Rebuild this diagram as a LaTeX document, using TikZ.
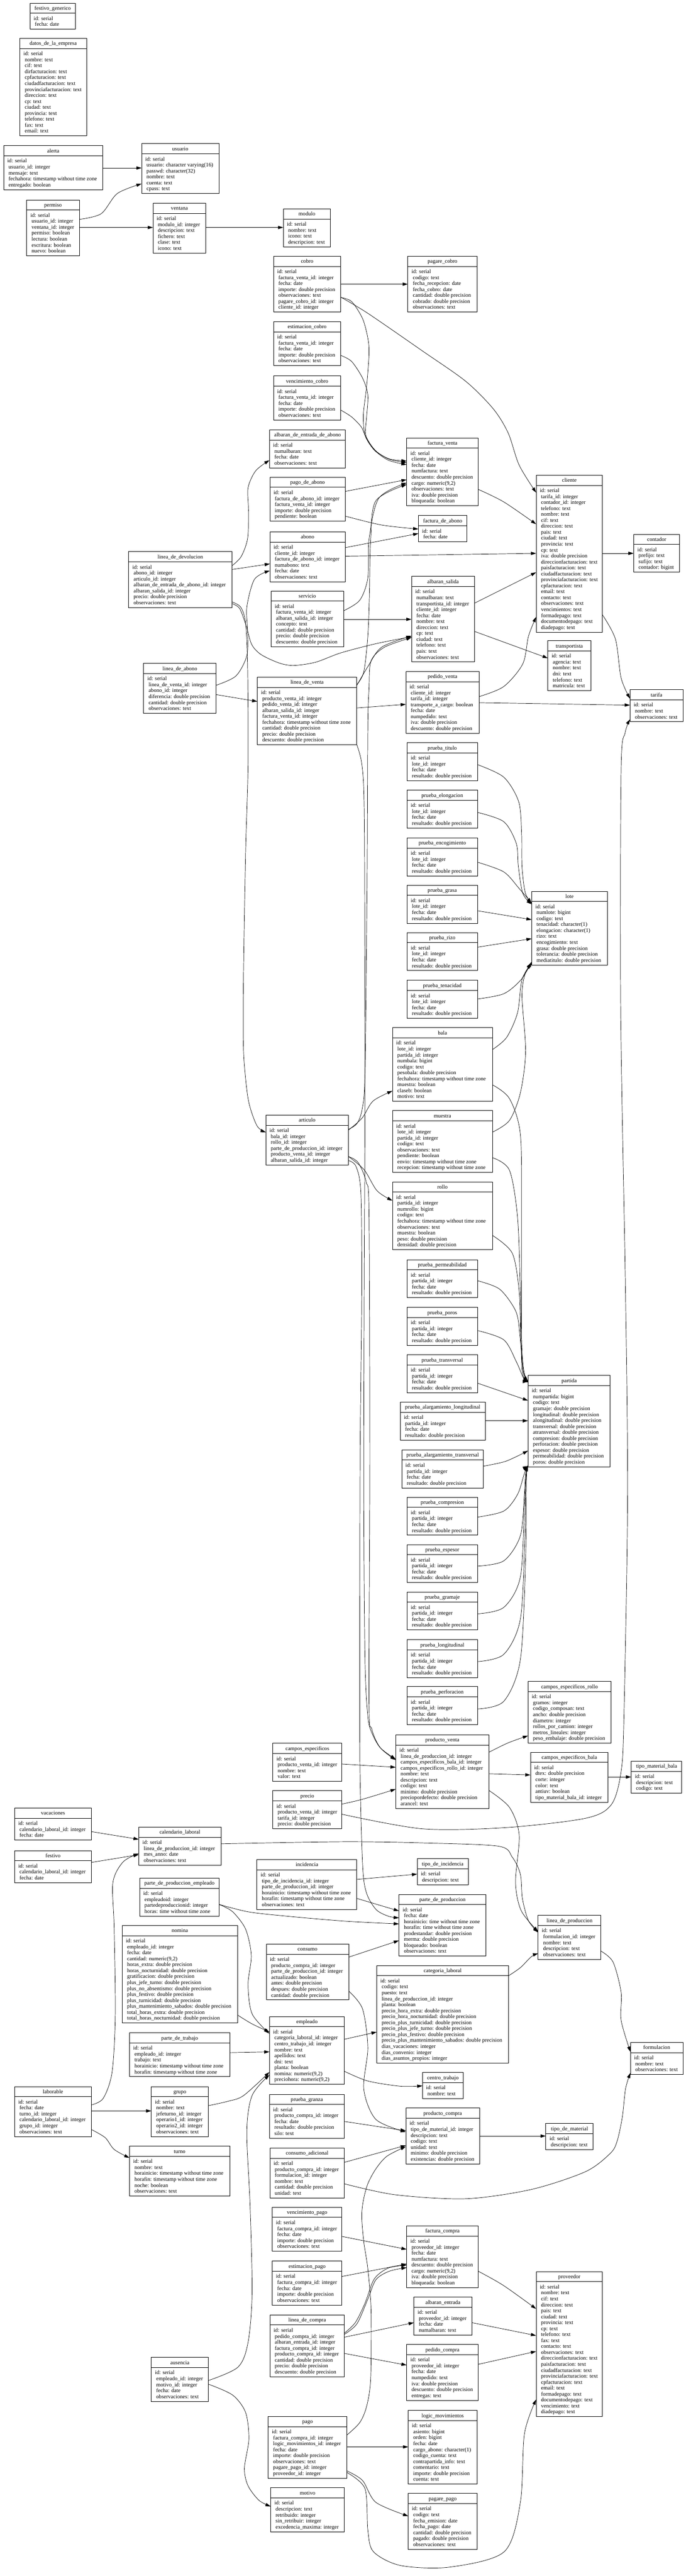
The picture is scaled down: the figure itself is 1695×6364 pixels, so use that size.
\documentclass[tikz,border=0pt]{standalone}
\usepackage{fontspec}
\setmainfont{Liberation Serif}
\usetikzlibrary{arrows.meta,calc}
\catcode`\_=12
\newcommand\fs{\fontsize{13.5}{15}\selectfont}
\tikzset{
  tbox/.style={draw, line width=1.2pt, inner sep=0pt, outer sep=0pt},
  rowtxt/.style={anchor=base west, inner sep=0pt, font=\fs},
  hdr/.style={anchor=base, inner sep=0pt, font=\fs},
  fk/.style={line width=0.9pt, -{Triangle[length=13pt,width=8pt]}},
}
\def\nr{1}
% table: name, x, y (top-left, y downwards), width, rows
\newcommand\tb[5]{%
  \foreach \rowt [count=\i] in {#5}{%
    \pgfmathsetmacro\yy{#3+42.2+14.7*(\i-1)}%
    \ifnum\i=1 \def\xx{#2+9}\else\def\xx{#2+12}\fi
    \node[rowtxt] at (\xx,\yy) {\rowt};
    \xdef\nr{\i}}%
  \node[tbox, anchor=north west, minimum width=#4, minimum height={35+14.7*\nr}] (#1) at (#2,#3) {};
  \draw[line width=1.2pt] (#2,#3+25) -- (#2+#4,#3+25);
  \node[hdr] at (#2+#4/2,#3+17) {#1};
}
% straight connector
\newcommand\sedge[4]{%
  \draw[fk] ($(#1.north east)+(0,#2)$) -- ($(#3.north west)+(0,#4)$);}
% curved connector through points
\newcommand\edge[5]{%
  \coordinate (es) at ($(#1.north east)+(0,#2)$);
  \coordinate (ed) at ($(#3.north west)+(0,#4)$);
  \draw[fk] plot[smooth] coordinates {(es) #5 (ed)};}
\begin{document}
\begin{tikzpicture}[x=1pt,y=-1pt]
\useasboundingbox (0,0) rectangle (1695,6364);
% ---------------- tables ----------------
\tb{festivo_generico}{74}{8}{112}{id: serial, fecha: date}
\tb{datos_de_la_empresa}{49}{95}{165}{id: serial, nombre: text, cif: text, dirfacturacion: text, cpfacturacion: text, ciudadfacturacion: text, provinciafacturacion: text, direccion: text, cp: text, ciudad: text, provincia: text, telefono: text, fax: text, email: text}
\tb{alerta}{9}{360}{245}{id: serial, usuario_id: integer, mensaje: text, fechahora: timestamp without time zone, entregado: boolean}
\tb{usuario}{350}{355}{191}{id: serial, usuario: character varying(16), passwd: character(32), nombre: text, cuenta: text, cpass: text}
\tb{permiso}{66}{494}{130}{id: serial, usuario_id: integer, ventana_id: integer, permiso: boolean, lectura: boolean, escritura: boolean, nuevo: boolean}
\tb{ventana}{378}{502}{131}{id: serial, modulo_id: integer, descripcion: text, fichero: text, clase: text, icono: text}
\tb{modulo}{700}{516}{117}{id: serial, nombre: text, icono: text, descripcion: text}
\tb{cobro}{676}{633}{166}{id: serial, factura_venta_id: integer, fecha: date, importe: double precision, observaciones: text, pagare_cobro_id: integer, cliente_id: integer}
\tb{pagare_cobro}{1008}{633}{171}{id: serial, codigo: text, fecha_recepcion: date, fecha_cobro: date, cantidad: double precision, cobrado: double precision, observaciones: text}
\tb{estimacion_cobro}{676}{795}{166}{id: serial, factura_venta_id: integer, fecha: date, importe: double precision, observaciones: text}
\tb{vencimiento_cobro}{676}{929}{166}{id: serial, factura_venta_id: integer, fecha: date, importe: double precision, observaciones: text}
\tb{albaran_de_entrada_de_abono}{666}{1062}{188}{id: serial, numalbaran: text, fecha: date, observaciones: text}
\tb{pago_de_abono}{667}{1179}{186}{id: serial, factura_de_abono_id: integer, factura_venta_id: integer, importe: double precision, pendiente: boolean}
\tb{abono}{667}{1314}{186}{id: serial, cliente_id: integer, factura_de_abono_id: integer, numabono: text, fecha: date, observaciones: text}
\tb{servicio}{670}{1460}{179}{id: serial, factura_venta_id: integer, albaran_salida_id: integer, concepto: text, cantidad: double precision, precio: double precision, descuento: double precision}
\tb{linea_de_venta}{636}{1673}{246}{id: serial, producto_venta_id: integer, pedido_venta_id: integer, albaran_salida_id: integer, factura_venta_id: integer, fechahora: timestamp without time zone, cantidad: double precision, precio: double precision, descuento: double precision}
\tb{linea_de_devolucion}{318}{1363}{255}{id: serial, abono_id: integer, articulo_id: integer, albaran_de_entrada_de_abono_id: integer, albaran_salida_id: integer, precio: double precision, observaciones: text}
\tb{linea_de_abono}{355}{1639}{179}{id: serial, linea_de_venta_id: integer, abono_id: integer, diferencia: double precision, cantidad: double precision, observaciones: text}
\tb{articulo}{657}{2755}{204}{id: serial, bala_id: integer, rollo_id: integer, parte_de_produccion_id: integer, producto_venta_id: integer, albaran_salida_id: integer}
\tb{factura_venta}{1005}{1082}{177}{id: serial, cliente_id: integer, fecha: date, numfactura: text, descuento: double precision, {cargo: numeric(9,2)}, observaciones: text, iva: double precision, bloqueada: boolean}
\tb{factura_de_abono}{1034}{1274}{120}{id: serial, fecha: date}
\tb{albaran_salida}{1017}{1424}{156}{id: serial, numalbaran: text, transportista_id: integer, cliente_id: integer, fecha: date, nombre: text, direccion: text, cp: text, ciudad: text, telefono: text, pais: text, observaciones: text}
\tb{pedido_venta}{1003}{1659}{181}{id: serial, cliente_id: integer, tarifa_id: integer, transporte_a_cargo: boolean, fecha: date, numpedido: text, iva: double precision, descuento: double precision}
\tb{cliente}{1325}{1174}{164}{id: serial, tarifa_id: integer, contador_id: integer, telefono: text, nombre: text, cif: text, direccion: text, pais: text, ciudad: text, provincia: text, cp: text, iva: double precision, direccionfacturacion: text, paisfacturacion: text, ciudadfacturacion: text, provinciafacturacion: text, cpfacturacion: text, email: text, contacto: text, observaciones: text, vencimientos: text, formadepago: text, documentodepago: text, diadepago: text}
\tb{contador}{1566}{1320}{114}{id: serial, prefijo: text, sufijo: text, contador: bigint}
\tb{transportista}{1354}{1583}{106}{id: serial, agencia: text, nombre: text, dni: text, telefono: text, matricula: text}
\tb{tarifa}{1557}{1704}{131}{id: serial, nombre: text, observaciones: text}
\tb{prueba_titulo}{1006}{1835}{174}{id: serial, lote_id: integer, fecha: date, resultado: double precision}
\tb{prueba_elongacion}{1006}{1952}{174}{id: serial, lote_id: integer, fecha: date, resultado: double precision}
\tb{prueba_encogimiento}{1006}{2070}{174}{id: serial, lote_id: integer, fecha: date, resultado: double precision}
\tb{prueba_grasa}{1006}{2187}{174}{id: serial, lote_id: integer, fecha: date, resultado: double precision}
\tb{prueba_rizo}{1006}{2304}{174}{id: serial, lote_id: integer, fecha: date, resultado: double precision}
\tb{prueba_tenacidad}{1006}{2422}{174}{id: serial, lote_id: integer, fecha: date, resultado: double precision}
\tb{lote}{1314}{2202}{187}{id: serial, numlote: bigint, codigo: text, tenacidad: character(1), elongacion: character(1), rizo: text, encogimiento: text, grasa: double precision, tolerancia: double precision, mediatitulo: double precision}
\tb{bala}{970}{2539}{247}{id: serial, lote_id: integer, partida_id: integer, numbala: bigint, codigo: text, pesobala: double precision, fechahora: timestamp without time zone, muestra: boolean, claseb: boolean, motivo: text}
\tb{muestra}{970}{2744}{247}{id: serial, lote_id: integer, partida_id: integer, codigo: text, observaciones: text, pendiente: boolean, envio: timestamp without time zone, recepcion: timestamp without time zone}
\tb{rollo}{970}{2920}{247}{id: serial, partida_id: integer, numrollo: bigint, codigo: text, fechahora: timestamp without time zone, observaciones: text, muestra: boolean, peso: double precision, densidad: double precision}
\tb{prueba_permeabilidad}{1006}{3112}{174}{id: serial, partida_id: integer, fecha: date, resultado: double precision}
\tb{prueba_poros}{1006}{3230}{174}{id: serial, partida_id: integer, fecha: date, resultado: double precision}
\tb{prueba_transversal}{1006}{3347}{174}{id: serial, partida_id: integer, fecha: date, resultado: double precision}
\tb{prueba_alargamiento_longitudinal}{989}{3464}{210}{id: serial, partida_id: integer, fecha: date, resultado: double precision}
\tb{prueba_alargamiento_transversal}{993}{3582}{202}{id: serial, partida_id: integer, fecha: date, resultado: double precision}
\tb{prueba_compresion}{1006}{3699}{174}{id: serial, partida_id: integer, fecha: date, resultado: double precision}
\tb{prueba_espesor}{1006}{3816}{174}{id: serial, partida_id: integer, fecha: date, resultado: double precision}
\tb{prueba_gramaje}{1006}{3933}{174}{id: serial, partida_id: integer, fecha: date, resultado: double precision}
\tb{prueba_longitudinal}{1006}{4051}{174}{id: serial, partida_id: integer, fecha: date, resultado: double precision}
\tb{prueba_perforacion}{1006}{4167}{174}{id: serial, partida_id: integer, fecha: date, resultado: double precision}
\tb{partida}{1305}{3398}{203}{id: serial, numpartida: bigint, codigo: text, gramaje: double precision, longitudinal: double precision, alongitudinal: double precision, transversal: double precision, atransversal: double precision, compresion: double precision, perforacion: double precision, espesor: double precision, permeabilidad: double precision, poros: double precision}
\tb{campos_especificos_rollo}{1305}{4154}{205}{id: serial, gramos: integer, codigo_composan: text, ancho: double precision, diametro: integer, rollos_por_camion: integer, metros_lineales: integer, peso_embalaje: double precision}
\tb{producto_venta}{978}{4286}{230}{id: serial, linea_de_produccion_id: integer, campos_especificos_bala_id: integer, campos_especificos_rollo_id: integer, nombre: text, descripcion: text, codigo: text, minimo: double precision, preciopordefecto: double precision, arancel: text}
\tb{campos_especificos_bala}{1311}{4329}{192}{id: serial, dtex: double precision, corte: integer, color: text, antiuv: boolean, tipo_material_bala_id: integer}
\tb{tipo_material_bala}{1560}{4351}{125}{id: serial, descripcion: text, codigo: text}
\tb{campos_especificos}{674}{4307}{171}{id: serial, producto_venta_id: integer, nombre: text, valor: text}
\tb{precio}{674}{4424}{171}{id: serial, producto_venta_id: integer, tarifa_id: integer, precio: double precision}
\tb{incidencia}{635}{4594}{247}{id: serial, tipo_de_incidencia_id: integer, parte_de_produccion_id: integer, horainicio: timestamp without time zone, horafin: timestamp without time zone, observaciones: text}
\tb{tipo_de_incidencia}{1031}{4592}{126}{id: serial, descripcion: text}
\tb{parte_de_produccion}{986}{4680}{215}{id: serial, fecha: date, horainicio: time without time zone, horafin: time without time zone, prodestandar: double precision, merma: double precision, bloqueado: boolean, observaciones: text}
\tb{linea_de_produccion}{1330}{4732}{155}{id: serial, formulacion_id: integer, nombre: text, descripcion: text, observaciones: text}
\tb{consumo}{658}{4803}{204}{id: serial, producto_compra_id: integer, parte_de_produccion_id: integer, actualizado: boolean, antes: double precision, despues: double precision, cantidad: double precision}
\tb{categoria_laboral}{931}{4856}{326}{id: serial, codigo: text, puesto: text, linea_de_produccion_id: integer, planta: boolean, precio_hora_extra: double precision, precio_hora_nocturnidad: double precision, precio_plus_turnicidad: double precision, precio_plus_jefe_turno: double precision, precio_plus_festivo: double precision, precio_plus_mantenimiento_sabados: double precision, dias_vacaciones: integer, dias_convenio: integer, dias_asuntos_propios: integer}
\tb{empleado}{666}{4982}{185}{id: serial, categoria_laboral_id: integer, centro_trabajo_id: integer, nombre: text, apellidos: text, dni: text, planta: boolean, {nomina: numeric(9,2)}, {preciohora: numeric(9,2)}}
\tb{centro_trabajo}{1044}{5120}{101}{id: serial, nombre: text}
\tb{formulacion}{1558}{5046}{130}{id: serial, nombre: text, observaciones: text}
\tb{prueba_granza}{666}{5174}{185}{id: serial, producto_compra_id: integer, fecha: date, resultado: double precision, silo: text}
\tb{producto_compra}{1003}{5208}{182}{id: serial, tipo_de_material_id: integer, descripcion: text, codigo: text, unidad: text, minimo: double precision, existencias: double precision}
\tb{tipo_de_material}{1349}{5246}{117}{id: serial, descripcion: text}
\tb{vacaciones}{36}{4467}{190}{id: serial, calendario_laboral_id: integer, fecha: date}
\tb{festivo}{36}{4572}{190}{id: serial, calendario_laboral_id: integer, fecha: date}
\tb{calendario_laboral}{343}{4514}{203}{id: serial, linea_de_produccion_id: integer, mes_anno: date, observaciones: text}
\tb{parte_de_produccion_empleado}{345}{4640}{197}{id: serial, empleadoid: integer, partedeproduccionid: integer, horas: time without time zone}
\tb{nomina}{302}{4757}{285}{id: serial, empleado_id: integer, fecha: date, {cantidad: numeric(9,2)}, horas_extra: double precision, horas_nocturnidad: double precision, gratificacion: double precision, plus_jefe_turno: double precision, plus_no_absentismo: double precision, plus_festivo: double precision, plus_turnicidad: double precision, plus_mantenimiento_sabados: double precision, total_horas_extra: double precision, total_horas_nocturnidad: double precision}
\tb{parte_de_trabajo}{320}{5022}{248}{id: serial, empleado_id: integer, trabajo: text, horainicio: timestamp without time zone, horafin: timestamp without time zone}
\tb{laborable}{36}{5155}{190}{id: serial, fecha: date, turno_id: integer, calendario_laboral_id: integer, grupo_id: integer, observaciones: text}
\tb{grupo}{374}{5155}{141}{id: serial, nombre: text, jefeturno_id: integer, operario1_id: integer, operario2_id: integer, observaciones: text}
\tb{turno}{320}{5302}{248}{id: serial, nombre: text, horainicio: timestamp without time zone, horafin: timestamp without time zone, noche: boolean, observaciones: text}
\tb{ausencia}{374}{5824}{141}{id: serial, empleado_id: integer, motivo_id: integer, fecha: date, observaciones: text}
\tb{consumo_adicional}{667}{5307}{184}{id: serial, producto_compra_id: integer, formulacion_id: integer, nombre: text, cantidad: double precision, unidad: text}
\tb{vencimiento_pago}{673}{5453}{172}{id: serial, factura_compra_id: integer, fecha: date, importe: double precision, observaciones: text}
\tb{estimacion_pago}{673}{5586}{172}{id: serial, factura_compra_id: integer, fecha: date, importe: double precision, observaciones: text}
\tb{linea_de_compra}{667}{5719}{184}{id: serial, pedido_compra_id: integer, albaran_entrada_id: integer, factura_compra_id: integer, producto_compra_id: integer, cantidad: double precision, precio: double precision, descuento: double precision}
\tb{pago}{663}{5970}{194}{id: serial, factura_compra_id: integer, logic_movimientos_id: integer, fecha: date, importe: double precision, observaciones: text, pagare_pago_id: integer, proveedor_id: integer}
\tb{motivo}{669}{6146}{182}{id: serial, descripcion: text, retribuido: integer, sin_retribuir: integer, excedencia_maxima: integer}
\tb{factura_compra}{1005}{5499}{177}{id: serial, proveedor_id: integer, fecha: date, numfactura: text, descuento: double precision, {cargo: numeric(9,2)}, iva: double precision, bloqueada: boolean}
\tb{albaran_entrada}{1023}{5675}{143}{id: serial, proveedor_id: integer, fecha: date, numalbaran: text}
\tb{pedido_compra}{1005}{5792}{177}{id: serial, proveedor_id: integer, fecha: date, numpedido: text, iva: double precision, descuento: double precision, entregas: text}
\tb{logic_movimientos}{1009}{5955}{170}{id: serial, asiento: bigint, orden: bigint, fecha: date, cargo_abono: character(1), codigo_cuenta: text, contrapartida_info: text, comentario: text, importe: double precision, cuenta: text}
\tb{pagare_pago}{1009}{6160}{170}{id: serial, codigo: text, fecha_emision: date, fecha_pago: date, cantidad: double precision, pagado: double precision, observaciones: text}
\tb{proveedor}{1325}{5612}{164}{id: serial, nombre: text, cif: text, direccion: text, pais: text, ciudad: text, provincia: text, cp: text, telefono: text, fax: text, contacto: text, observaciones: text, direccionfacturacion: text, paisfacturacion: text, ciudadfacturacion: text, provinciafacturacion: text, cpfacturacion: text, email: text, formadepago: text, documentodepago: text, vencimiento: text, diadepago: text}
% ---------------- connectors ----------------
\sedge{alerta}{55}{usuario}{60}
\edge{permiso}{48}{usuario}{99}{(250,528) (290,478)}
\sedge{permiso}{68}{ventana}{60}
\sedge{ventana}{60}{modulo}{46}
\sedge{cobro}{69}{pagare_cobro}{69}
\edge{cobro}{102}{factura_venta}{57}{(869,745) (896,787) (909,835) (912,874) (906,955) (898,1024) (901,1070) (912,1095) (932,1117) (963,1134)}
\edge{estimacion_cobro}{83}{factura_venta}{61}{(869,893) (896,934) (909,975) (906,1030) (903,1070) (912,1092) (931,1116) (963,1135)}
\edge{vencimiento_cobro}{84}{factura_venta}{66}{(869,1030) (893,1055) (905,1082) (925,1112) (960,1137)}
\edge{cobro}{101}{cliente}{43}{(909,774) (1044,867) (1151,942) (1219,1010) (1256,1070) (1283,1149)}
\edge{linea_de_devolucion}{35}{albaran_de_entrada_de_abono}{75}{(596,1375) (612,1330) (614,1260) (613,1205) (632,1163)}
\sedge{linea_de_devolucion}{44}{abono}{79}
\edge{linea_de_abono}{54}{abono}{96}{(583,1670) (610,1620) (612,1560) (610,1500) (629,1431)}
\sedge{linea_de_abono}{77}{linea_de_venta}{60}
\edge{linea_de_devolucion}{124}{articulo}{42}{(595,1500) (607,1540) (612,1650) (613,1890) (607,2104) (602,2390) (601,2533) (603,2619) (614,2719) (635,2781)}
\edge{linea_de_devolucion}{128}{albaran_salida}{149}{(592,1503) (608,1545) (622,1592) (645,1617) (690,1638) (726,1644) (780,1636) (842,1613) (930,1590)}
\sedge{pago_de_abono}{35}{factura_venta}{103}
\edge{pago_de_abono}{96}{factura_de_abono}{33}{(943,1297)}
\sedge{abono}{39}{factura_de_abono}{44}
\sedge{abono}{60}{cliente}{193}
\edge{servicio}{49}{factura_venta}{111}{(889,1483) (909,1428) (912,1333) (936,1231)}
\sedge{servicio}{70}{albaran_salida}{106}
\edge{linea_de_venta}{18}{factura_venta}{115}{(899,1660) (909,1572) (913,1469) (916,1333) (929,1237)}
\edge{linea_de_venta}{20}{albaran_salida}{147}{(909,1647) (943,1599)}
\sedge{linea_de_venta}{76}{pedido_venta}{81}
\edge{linea_de_venta}{167}{producto_venta}{60}{(893,1880) (899,1950) (901,2130) (902,2700) (900,3200) (899,3700) (902,4100) (909,4240) (919,4281) (940,4318)}
\edge{articulo}{102}{producto_venta}{62}{(885,2872) (905,2920) (912,3000) (914,3600) (912,4200) (919,4272) (940,4318)}
\edge{articulo}{112}{parte_de_produccion}{58}{(880,2882) (892,2950) (894,3200) (890,3600) (889,4240) (891,4445) (897,4622) (907,4680) (930,4718) (960,4734)}
\edge{articulo}{35}{albaran_salida}{151}{(882,2776) (895,2740) (902,2650) (907,2200) (909,1800) (912,1700) (917,1633) (950,1599)}
\edge{articulo}{37}{bala}{156}{(895,2762) (922,2720)}
\edge{articulo}{102}{rollo}{46}{(900,2890) (932,2942)}
\edge{pedido_venta}{62}{cliente}{350}{(1245,1696) (1292,1640) (1306,1572)}
\sedge{pedido_venta}{77}{tarifa}{38}
\sedge{albaran_salida}{66}{cliente}{240}
\sedge{albaran_salida}{136}{transportista}{43}
\edge{factura_venta}{127}{cliente}{121}{(1245,1240)}
\sedge{cliente}{193}{contador}{47}
\edge{cliente}{345}{tarifa}{22}{(1521,1579) (1535,1675)}
\edge{precio}{58}{tarifa}{73}{(1044,4518) (1250,4515) (1447,4492) (1511,4458) (1535,4376) (1542,4240) (1551,3700) (1546,3200) (1534,2500) (1535,1900) (1545,1810)}
\edge{prueba_titulo}{54}{lote}{30}{(1245,1920) (1282,1981) (1289,2060) (1290,2140) (1298,2205)}
\edge{prueba_elongacion}{55}{lote}{32}{(1245,2030) (1276,2084) (1281,2140) (1292,2207)}
\edge{prueba_encogimiento}{60}{lote}{29}{(1245,2154) (1283,2195)}
\sedge{prueba_grasa}{63}{lote}{70}
\sedge{prueba_rizo}{36}{lote}{117}
\edge{prueba_tenacidad}{46}{lote}{174}{(1245,2455) (1288,2420)}
\edge{bala}{54}{lote}{177}{(1252,2563) (1279,2502) (1290,2420)}
\edge{muestra}{53}{lote}{180}{(1259,2768) (1286,2700) (1299,2598) (1290,2461) (1298,2405)}
\edge{bala}{141}{partida}{14}{(1259,2714) (1286,2802) (1289,3000) (1289,3300) (1295,3388)}
\edge{muestra}{116}{partida}{15}{(1259,2891) (1279,3007) (1286,3190) (1290,3382)}
\edge{rollo}{132}{partida}{16}{(1266,3096) (1283,3190) (1287,3300) (1293,3386)}
\edge{prueba_permeabilidad}{52}{partida}{17}{(1235,3185) (1275,3240) (1285,3300) (1293,3388)}
\edge{prueba_poros}{57}{partida}{17}{(1245,3310) (1276,3364) (1294,3405)}
\sedge{prueba_transversal}{70}{partida}{62}
\sedge{prueba_alargamiento_longitudinal}{46}{partida}{112}
\edge{prueba_alargamiento_transversal}{40}{partida}{186}{(1250,3610)}
\edge{prueba_compresion}{49}{partida}{222}{(1245,3733) (1279,3692) (1296,3640)}
\edge{prueba_espesor}{53}{partida}{223}{(1245,3856) (1286,3794) (1296,3690) (1299,3642)}
\edge{prueba_gramaje}{54}{partida}{224}{(1245,3971) (1286,3896) (1296,3720) (1300,3645)}
\edge{prueba_longitudinal}{54}{partida}{224}{(1245,4087) (1286,4000) (1297,3800) (1300,3650)}
\edge{prueba_perforacion}{55}{partida}{224}{(1245,4203) (1286,4100) (1299,3850) (1301,3655)}
\sedge{campos_especificos}{51}{producto_venta}{80}
\edge{precio}{33}{producto_venta}{134}{(896,4445)}
\edge{producto_venta}{43}{campos_especificos_rollo}{134}{(1255,4306)}
\sedge{producto_venta}{96}{campos_especificos_bala}{56}
\sedge{campos_especificos_bala}{61}{tipo_material_bala}{39}
\edge{producto_venta}{137}{linea_de_produccion}{40}{(1259,4465) (1283,4533) (1274,4650) (1288,4720)}
\sedge{incidencia}{49}{tipo_de_incidencia}{38}
\sedge{incidencia}{96}{parte_de_produccion}{41}
\sedge{consumo}{32}{parte_de_produccion}{114}
\edge{consumo}{116}{producto_compra}{59}{(896,4963) (909,5059) (899,5161) (929,5236)}
\edge{calendario_laboral}{41}{linea_de_produccion}{42}{(850,4550) (1050,4553) (1232,4561) (1266,4588) (1286,4630) (1291,4690) (1306,4745)}
\edge{categoria_laboral}{25}{linea_de_produccion}{94}{(1286,4861) (1313,4834)}
\edge{linea_de_produccion}{88}{formulacion}{23}{(1515,4847) (1535,4922) (1535,4991)}
\sedge{empleado}{56}{categoria_laboral}{164}
\edge{empleado}{135}{centro_trabajo}{33}{(909,5141) (990,5154)}
\sedge{prueba_granza}{67}{producto_compra}{56}
\sedge{producto_compra}{69}{tipo_de_material}{31}
\sedge{consumo_adicional}{35}{producto_compra}{92}
\edge{consumo_adicional}{88}{formulacion}{75}{(976,5422) (1151,5432) (1313,5409) (1447,5365) (1508,5320) (1525,5290) (1538,5230) (1546,5160)}
\edge{pago}{46}{producto_compra}{95}{(889,5985) (906,5945) (916,5877) (917,5707) (909,5605) (899,5538) (894,5476) (898,5436) (909,5395) (929,5358) (956,5327)}
\edge{linea_de_compra}{48}{factura_compra}{103}{(882,5741) (909,5680) (929,5632) (962,5611)}
\edge{linea_de_compra}{45}{factura_compra}{97}{(878,5738) (902,5690) (925,5630) (960,5603)}
\sedge{linea_de_compra}{55}{albaran_entrada}{63}
\sedge{linea_de_compra}{95}{pedido_compra}{51}
\sedge{vencimiento_pago}{72}{factura_compra}{58}
\sedge{estimacion_pago}{38}{factura_compra}{94}
\edge{factura_compra}{112}{proveedor}{92}{(1244,5646)}
\sedge{albaran_entrada}{63}{proveedor}{158}
\sedge{pedido_compra}{49}{proveedor}{197}
\sedge{pago}{75}{logic_movimientos}{90}
\edge{pago}{134}{pagare_pago}{56}{(896,6128) (929,6182)}
\edge{pago}{138}{proveedor}{316}{(902,6148) (909,6250) (923,6304) (990,6338) (1111,6342) (1246,6304) (1286,6182) (1296,6013)}
\sedge{vacaciones}{58}{calendario_laboral}{30}
\sedge{festivo}{29}{calendario_laboral}{68}
\edge{laborable}{45}{calendario_laboral}{65}{(255,5184) (277,5119) (285,4975) (282,4759) (279,4651) (304,4600)}
\sedge{laborable}{60}{grupo}{60}
\edge{laborable}{106}{turno}{29}{(260,5281) (282,5310)}
\edge{parte_de_produccion_empleado}{65}{parte_de_produccion}{73}{(613,4723) (700,4733) (850,4746)}
\edge{parte_de_produccion_empleado}{65}{empleado}{42}{(575,4723) (607,4766) (621,4831) (613,4903) (623,4975)}
\edge{nomina}{221}{empleado}{38}{(623,5000)}
\sedge{parte_de_trabajo}{49}{empleado}{87}
\edge{grupo}{47}{empleado}{137}{(564,5191) (602,5177)}
\edge{ausencia}{57}{empleado}{144}{(588,5848) (613,5787) (623,5664) (618,5447) (610,5266) (623,5177)}
\edge{ausencia}{66}{motivo}{46}{(575,5917) (607,5960) (615,6026) (604,6098) (613,6141) (640,6177)}
\end{tikzpicture}
\end{document}
